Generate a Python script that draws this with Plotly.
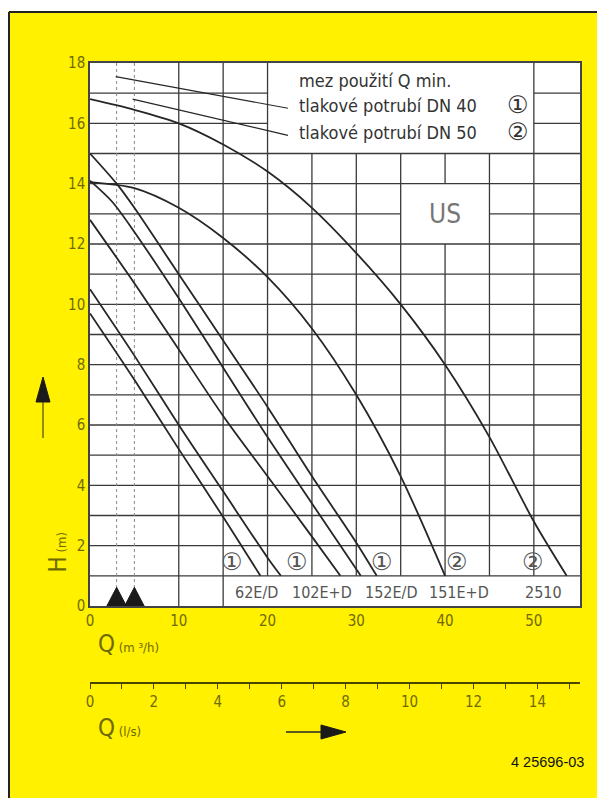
import plotly.graph_objects as go

# page is rendered with an 8 px body margin: figure origin sits at page (8, 8)
OFF = 8
W, HPX = 597, 790
ML, MR, MT, MB = 82, 25, 55, 38
PW, PH = W - ML - MR, HPX - MT - MB

Q_MAX = 55.2
H_MAX = 18
M3H_PER_LS = 3.6

YELLOW = "#FFF100"
OLIVE = "#6f6a00"
INK = "#262626"
GRIDC = "#3a3a3a"
FONT = "Liberation Sans Narrow, DejaVu Sans Condensed, Arial Narrow, sans-serif"

# ---- pump curves (Q m3/h, H m) ----
q_a = [0, 5, 10, 15, 19.2]
h_a = [9.7, 7.5, 5.2, 2.95, 1.0]
q_b = [0, 5, 10, 15, 20, 21.5]
h_b = [10.5, 8.3, 6.0, 3.8, 1.6, 1.0]
q_c = [0, 5, 10, 15, 20, 25, 28.2]
h_c = [12.8, 10.7, 8.5, 6.3, 4.3, 2.3, 1.0]
q_d = [0, 2.5, 5, 10, 15, 20, 25, 30.5]
h_d = [14.1, 13.4, 12.4, 10.2, 7.9, 5.6, 3.4, 1.0]
q_e = [0, 3, 5, 10, 15, 20, 25, 30, 32.3]
h_e = [15.0, 14.0, 13.2, 11.0, 8.8, 6.6, 4.3, 2.1, 1.0]
q_f = [0, 5, 10, 15, 20, 25, 30, 35, 40]
h_f = [14.05, 13.85, 13.2, 12.2, 10.9, 9.2, 7.0, 4.3, 1.0]
q_g = [0, 5, 10, 15, 20, 25, 30, 35, 40, 45, 50, 53.7]
h_g = [16.8, 16.45, 16.0, 15.3, 14.4, 13.2, 11.7, 10.0, 8.0, 5.6, 2.8, 1.0]

# Q min limits (m3/h) and leader lines to the legend text
qmin = [3.0, 5.0]
leader_q = [[2.9, 22.3], [4.8, 22.3]]
leader_h = [[17.55, 16.5], [16.8, 15.6]]

# labels
x_ticks = [0, 10, 20, 30, 40, 50]
y_ticks = [0, 2, 4, 6, 8, 10, 12, 14, 16, 18]
ls_ticks = list(range(0, 16))
ls_labels = [str(v) if v % 2 == 0 else "" for v in ls_ticks]

model_labels = ["62E/D", "102E+D", "152E/D", "151E+D", "2510"]
model_q = [18.7, 26.1, 34.0, 41.6, 51.1]
circle_labels = ["①", "①", "①", "②", "②"]
circle_q = [16.0, 23.3, 32.9, 41.3, 49.9]

legend_lines = ["mez použití Q min.", "tlakové potrubí DN 40", "tlakové potrubí DN 50"]
legend_h = [17.43, 16.6, 15.7]
legend_marks = ["", "①", "②"]

fig = go.Figure()

# ---- grid (irregular, as in the original sheet) ----
h_segments = []
for h in range(1, 15):
    if h == 13:
        h_segments += [(h, 0, 35), (h, 45, Q_MAX)]
    else:
        h_segments.append((h, 0, Q_MAX))
h_segments.append((15, 0, Q_MAX))
for h in (16, 17):
    h_segments += [(h, 0, 20), (h, 50, Q_MAX)]
v_segments = [(10, 0, 18), (15, 0, 18), (20, 1, 18), (25, 1, 15), (30, 1, 15),
              (35, 1, 15), (40, 1, 12), (40, 14, 15), (45, 1, 15), (50, 1, 18)]
gx, gy = [], []
for h, a, b in h_segments:
    gx += [a, b, None]
    gy += [h, h, None]
for q, a, b in v_segments:
    gx += [q, q, None]
    gy += [a, b, None]
fig.add_trace(go.Scatter(x=gx, y=gy, mode="lines", line=dict(color=GRIDC, width=1.3),
                         hoverinfo="skip", showlegend=False))

# dashed Q-min verticals
for q in qmin:
    fig.add_trace(go.Scatter(x=[q, q], y=[0, H_MAX], mode="lines",
                             line=dict(color="#888888", width=1, dash="dot"),
                             hoverinfo="skip", showlegend=False))
# triangles marking Q min
for q in qmin:
    fig.add_trace(go.Scatter(x=[q - 1.1, q, q + 1.1, q - 1.1], y=[0, 0.62, 0, 0],
                             mode="lines", fill="toself", fillcolor="#1a1a1a",
                             line=dict(color="#1a1a1a", width=1),
                             hoverinfo="skip", showlegend=False))

# leader lines
for lq, lh in zip(leader_q, leader_h):
    fig.add_trace(go.Scatter(x=lq, y=lh, mode="lines", line=dict(color=INK, width=1.2),
                             hoverinfo="skip", showlegend=False))

# pump curves
for q, h in [(q_a, h_a), (q_b, h_b), (q_c, h_c), (q_d, h_d), (q_e, h_e), (q_f, h_f), (q_g, h_g)]:
    fig.add_trace(go.Scatter(x=q, y=h, mode="lines",
                             line=dict(color=INK, width=1.8, shape="spline", smoothing=0.8),
                             showlegend=False))

# invisible trace for the l/s axis
fig.add_trace(go.Scatter(x=[0, Q_MAX / M3H_PER_LS], y=[None, None], xaxis="x2",
                         mode="lines", showlegend=False, hoverinfo="skip"))

ann = []
for t, q in zip(model_labels, model_q):
    ann.append(dict(x=q, y=0.45, text=t, showarrow=False,
                    font=dict(family=FONT, size=16, color="#555555")))
for t, q in zip(circle_labels, circle_q):
    ann.append(dict(x=q, y=1.45, text=t, showarrow=False,
                    font=dict(family="DejaVu Sans", size=24, color="#555555")))
for t, h, m in zip(legend_lines, legend_h, legend_marks):
    ann.append(dict(x=23.3, y=h, text=t, showarrow=False, xanchor="left",
                    font=dict(family=FONT, size=18, color="#333333")))
    if m:
        ann.append(dict(x=48.2, y=h, text=m, showarrow=False,
                        font=dict(family="DejaVu Sans", size=24, color="#333333")))
ann.append(dict(x=40, y=13.0, text="US", showarrow=False,
                font=dict(family=FONT, size=26, color="#777777")))


def px(x, y):
    """page pixel -> paper coords"""
    fx, fy = x - OFF, y - OFF
    return (fx - ML) / PW, (HPX - MB - fy) / PH


def pann(x, y, text, size, color, angle=0, xanchor="center", family=FONT):
    xx, yy = px(x, y)
    ann.append(dict(x=xx, y=yy, xref="paper", yref="paper", text=text, showarrow=False,
                    xanchor=xanchor, textangle=angle,
                    font=dict(family=family, size=size, color=color)))


pann(96, 660, "<span style='font-size:24px'>Q</span> (m ³/h)", 13, OLIVE, xanchor="left")
pann(96, 744, "<span style='font-size:24px'>Q</span> (l/s)", 13, OLIVE, xanchor="left")
pann(57, 575, "<span style='font-size:24px'>H</span> (m)", 13, OLIVE, angle=-90)
pann(547, 772, "4 25696-03", 14.5, "#111111", family="Liberation Sans, Arial, sans-serif")

shapes = []


def pshape(**kw):
    d = dict(xref="paper", yref="paper")
    d.update(kw)
    shapes.append(d)


# white strip above the frame, then the frame (top and left)
w0 = px(8, 8)
w1 = px(620, 11)
pshape(type="rect", x0=w0[0], y0=w0[1], x1=w1[0], y1=w1[1], fillcolor="white",
       line=dict(width=0), layer="above")
x0, y0 = px(9, 12)
x1, _ = px(620, 12)
_, yb = px(9, 820)
pshape(type="line", x0=x0, y0=y0, x1=x1, y1=y0, line=dict(color="#222222", width=2))
pshape(type="line", x0=x0, y0=y0, x1=x0, y1=yb, line=dict(color="#222222", width=2))

# up arrow
ax, ay0 = px(43, 438)
_, ay1 = px(43, 398)
pshape(type="line", x0=ax, y0=ay0, x1=ax, y1=ay1, line=dict(color=OLIVE, width=1.5))
tl = px(36, 402)
tr = px(50, 402)
tp = px(43, 377)
pshape(type="path", path=f"M {tl[0]} {tl[1]} L {tp[0]} {tp[1]} L {tr[0]} {tr[1]} Z",
       fillcolor="#1a1a1a", line=dict(color="#1a1a1a", width=1))
# right arrow
r0 = px(286, 732)
r1 = px(325, 732)
pshape(type="line", x0=r0[0], y0=r0[1], x1=r1[0], y1=r1[1], line=dict(color=INK, width=1.5))
a1 = px(321, 725)
a2 = px(321, 739)
a3 = px(346, 732)
pshape(type="path", path=f"M {a1[0]} {a1[1]} L {a3[0]} {a3[1]} L {a2[0]} {a2[1]} Z",
       fillcolor="#1a1a1a", line=dict(color="#1a1a1a", width=1))

ydom0 = px(0, 606)[1]
axis2_pos = px(0, 683)[1]

fig.update_layout(
    width=W, height=HPX,
    margin=dict(l=ML, r=MR, t=MT, b=MB),
    paper_bgcolor=YELLOW, plot_bgcolor="white",
    showlegend=False,
    annotations=ann, shapes=shapes,
    xaxis=dict(range=[0, Q_MAX], tickvals=x_ticks, ticktext=[str(v) for v in x_ticks],
               showgrid=False, zeroline=False, showline=True, mirror=True,
               linecolor="#444444", linewidth=1.5, ticks="",
               tickfont=dict(family=FONT, size=15, color=OLIVE)),
    yaxis=dict(range=[0, H_MAX], domain=[ydom0, 1], tickvals=y_ticks,
               ticktext=[str(v) for v in y_ticks],
               showgrid=False, zeroline=False, showline=True, mirror=True,
               linecolor="#444444", linewidth=1.5, ticks="",
               tickfont=dict(family=FONT, size=15, color=OLIVE)),
    xaxis2=dict(range=[0, Q_MAX / M3H_PER_LS], overlaying="x", side="bottom",
                anchor="free", position=axis2_pos, tickvals=ls_ticks, ticktext=ls_labels,
                showgrid=False, zeroline=False, showline=True, linecolor="#4a4600",
                linewidth=1.5, ticks="outside", ticklen=5, tickcolor="#4a4600",
                tickfont=dict(family=FONT, size=15, color=OLIVE)),
)

fig.write_html("out.html")
